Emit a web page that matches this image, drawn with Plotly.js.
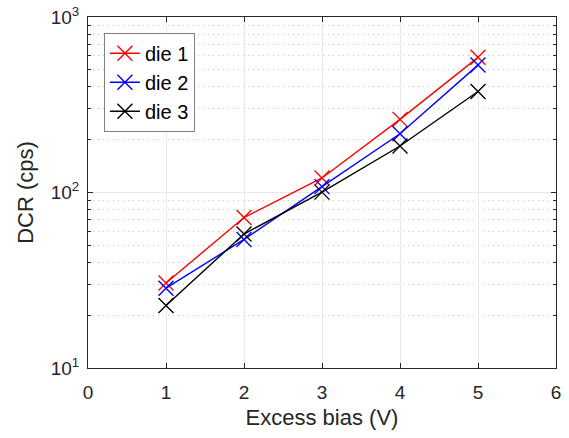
<!DOCTYPE html>
<html><head><meta charset="utf-8">
<script src="https://cdn.plot.ly/plotly-3.0.1.min.js"></script>
<style>html,body{margin:0;padding:0;background:#fff}</style>
</head><body>
<div id="chart" style="width:569px;height:438px"></div>
<script>
const biasV = [1, 2, 3, 4, 5];
const die1 = [30.5, 72, 121, 261, 589];
const die2 = [28.5, 54, 108, 216, 532];
const die3 = [22.7, 58, 100.5, 184, 376];
const seriesNames = ['die 1', 'die 2', 'die 3'];
const seriesColors = ['#ff0000', '#0000ff', '#000000'];
const yMajor = [10, 100, 1000];
const yMajorText = ['10<sup>1</sup>', '10<sup>2</sup>', '10<sup>3</sup>'];
const yMinor = [20,30,40,50,60,70,80,90,200,300,400,500,600,700,800,900];
const xTicks = [0,1,2,3,4,5,6];

const data = [die1, die2, die3].map((ys, i) => ({
  x: biasV, y: ys, name: seriesNames[i],
  type: 'scatter', mode: 'lines+markers',
  line: {color: seriesColors[i], width: 1.4},
  marker: {symbol: 'x-thin-open', size: 15, line: {color: seriesColors[i], width: 1.4}, color: seriesColors[i]}
}));

const font = {family: 'Arial, "Liberation Sans", sans-serif', color: '#262626'};
const layout = {
  width: 569, height: 438,
  margin: {l: 88, r: 13, t: 17, b: 70},
  paper_bgcolor: '#fff', plot_bgcolor: '#fff',
  font: Object.assign({size: 19}, font),
  showlegend: true,
  legend: {x: 0.034, y: 0.955, xanchor: 'left', yanchor: 'top', bgcolor: '#fff',
    bordercolor: '#808080', borderwidth: 1, font: {family: font.family, color: '#000', size: 20},
    itemwidth: 30},
  xaxis: {range: [0, 6], tickvals: xTicks, ticks: 'inside', ticklen: 5, tickcolor: '#262626',
    showline: true, linecolor: '#262626', linewidth: 1, mirror: 'ticks',
    showgrid: true, gridcolor: '#e8e8e8', gridwidth: 1, zeroline: false,
    ticklabelstandoff: 7,
    tickfont: Object.assign({size: 19}, font),
    title: {text: 'Excess bias (V)', font: Object.assign({size: 22}, font), standoff: 7}},
  yaxis: {type: 'log', range: [1, 3], tickvals: yMajor, ticktext: yMajorText,
    ticks: 'inside', ticklen: 5, tickcolor: '#262626',
    showline: true, linecolor: '#262626', linewidth: 1, mirror: 'ticks',
    showgrid: true, gridcolor: '#e8e8e8', gridwidth: 1, zeroline: false,
    ticklabelstandoff: 4,
    tickfont: Object.assign({size: 19}, font),
    minor: {tickvals: yMinor, ticks: 'inside', ticklen: 3, tickcolor: '#262626',
      showgrid: true, gridcolor: '#c8c8c8', griddash: '1px,4px', gridwidth: 1},
    title: {text: 'DCR (cps)', font: Object.assign({size: 22}, font), standoff: 10}}
};
Plotly.newPlot('chart', data, layout, {displayModeBar: false, staticPlot: true});
</script>
</body></html>
